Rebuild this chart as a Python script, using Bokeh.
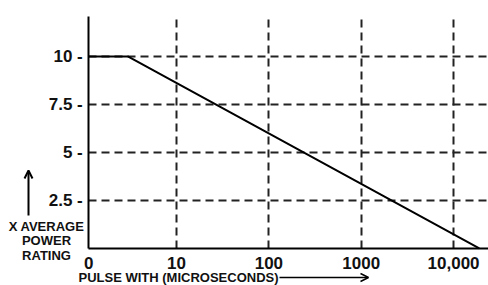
from bokeh.plotting import figure
from bokeh.models import Range1d, FixedTicker, Label, Arrow, OpenHead, Grid
from bokeh.embed import file_html
from bokeh.resources import INLINE

# Data (pulse width in microseconds, x average power rating)
x_origin = 1.12          # where the log axis starts (labelled "0")
pulse_width = [x_origin, 3.0, 19000.0]
power_rating = [10.0, 10.0, 0.0]

x_ticks = [x_origin, 10, 100, 1000, 10000]
x_tick_labels = ["0", "10", "100", "1000", "10,000"]
x_grid_ticks = [10, 100, 1000, 10000]
y_ticks = [2.5, 5, 7.5, 10]
y_tick_labels = ["2.5 -", "5 -", "7.5 -", "10 -"]
y_top = 12.08
x_right = 23900

FONT = "Liberation Sans"

p = figure(width=488, height=285, x_axis_type="log",
           x_range=Range1d(0.124, x_right), y_range=Range1d(-1.93, 12.92),
           output_backend="svg", toolbar_location=None,
           min_border_left=0, min_border_right=0, min_border_top=0, min_border_bottom=0)
p.outline_line_color = None
p.background_fill_color = "white"

p.line(pulse_width, power_rating, line_color="black", line_width=2)

xa, ya = p.xaxis[0], p.yaxis[0]
xa.fixed_location = 0
ya.fixed_location = x_origin
xa.bounds = (x_origin, x_right)
ya.bounds = (0, y_top)
for ax in (xa, ya):
    ax.axis_line_color = "black"
    ax.axis_line_width = 2
    ax.major_tick_line_color = None
    ax.minor_tick_line_color = None
    ax.major_label_text_font = FONT
    ax.major_label_text_font_style = "bold"
    ax.major_label_text_font_size = "17px"
    ax.major_label_text_color = "#111111"

xa.ticker = FixedTicker(ticks=x_ticks)
xa.major_label_overrides = dict(zip(x_ticks, x_tick_labels))
xa.major_label_standoff = 3
ya.ticker = FixedTicker(ticks=y_ticks)
ya.major_label_overrides = dict(zip(y_ticks, y_tick_labels))
ya.major_label_standoff = 0

has_cross = "cross_bounds" in Grid.properties()
xg, yg = p.xgrid[0], p.ygrid[0]
xg.ticker = FixedTicker(ticks=x_grid_ticks)
yg.ticker = FixedTicker(ticks=y_ticks)
xg.bounds = (x_origin, x_right)
yg.bounds = (0, y_top)
if has_cross:
    xg.cross_bounds = (0, y_top)
    yg.cross_bounds = (x_origin, x_right)
for g in (xg, yg):
    g.grid_line_color = "#222222"
    g.grid_line_width = 2
    g.grid_line_dash = "8 5"
if not has_cross:
    xg.visible = False
    yg.visible = False
    p.segment(x0=x_grid_ticks, x1=x_grid_ticks, y0=[0] * 4, y1=[y_top] * 4,
              line_color="#222222", line_width=2, line_dash="8 5")
    p.segment(x0=[x_origin] * 4, x1=[x_right] * 4, y0=y_ticks, y1=y_ticks,
              line_color="#222222", line_width=2, line_dash="8 5")
# keep the curve above the grid
p.renderers.append(p.renderers.pop(0))

H = 285
def lab(text, x, y_page, size="13px", align="center"):
    p.add_layout(Label(x=x, y=H - y_page, x_units="screen", y_units="screen", text=text,
                       text_font=FONT, text_font_style="bold", text_font_size=size,
                       text_align=align, text_baseline="middle", text_color="#111111"))

lab("X AVERAGE", 46, 226)
lab("POWER", 46, 240)
lab("RATING", 46, 255)
lab("PULSE WITH (MICROSECONDS)", 78, 277, align="left")

p.add_layout(Arrow(end=OpenHead(size=8, line_width=2, line_color="black"),
                   x_start=28, y_start=H - 215, x_end=28, y_end=H - 170,
                   start_units="screen", end_units="screen",
                   line_width=2, line_color="black"))
p.add_layout(Arrow(end=OpenHead(size=8, line_width=1.5, line_color="black"),
                   x_start=279, y_start=H - 277, x_end=368, y_end=H - 277,
                   start_units="screen", end_units="screen",
                   line_width=1.5, line_color="black"))

open("out.html", "w").write(file_html(p, INLINE))
